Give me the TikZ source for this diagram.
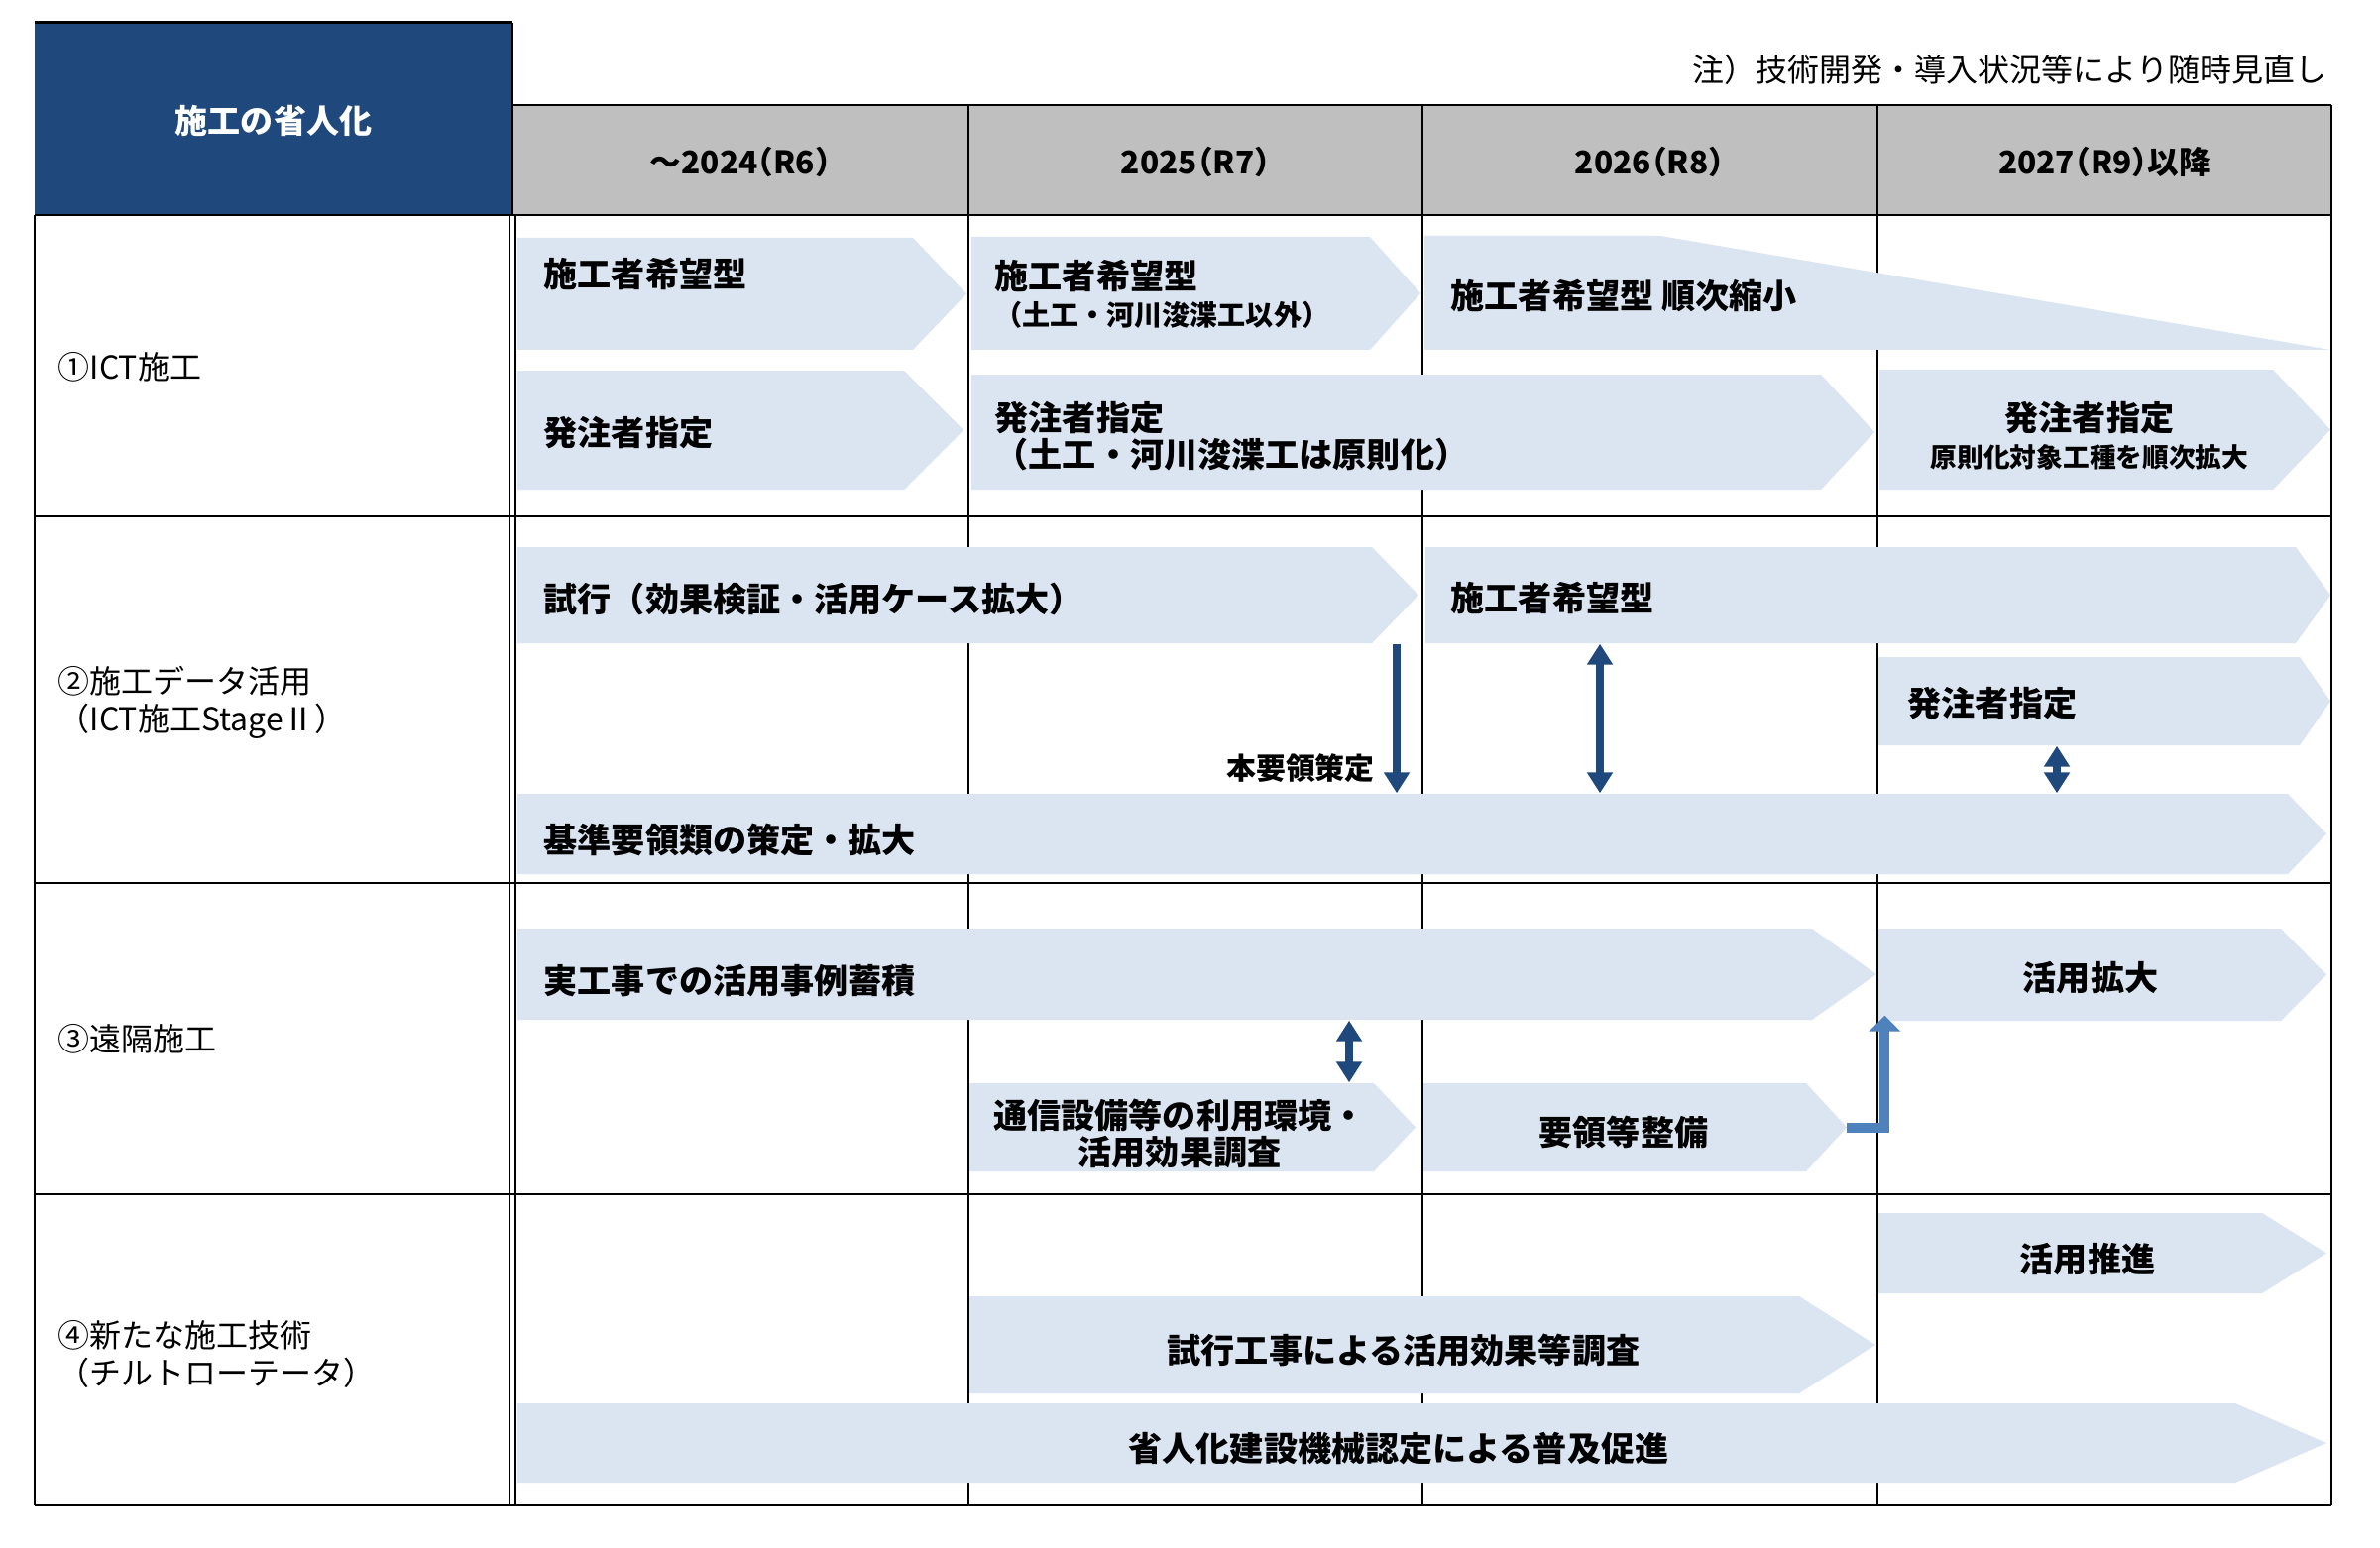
\documentclass[tikz,border=0pt]{standalone}
\usepackage{fontspec}
\setmainfont{Noto Sans CJK JP}
\usepackage{tikz}
\usetikzlibrary{arrows.meta, calc, positioning, fit}

\definecolor{headnavy}{HTML}{1F497D}
\definecolor{headgray}{HTML}{BFBFBF}
\definecolor{barblue}{HTML}{DBE5F1}
\definecolor{stepblue}{HTML}{4F81BD}

% chevron bar: name, left, body end, tip, top, bottom
\newcommand{\chevbar}[6]{%
	\fill[barblue] (#2,#5) -- (#3,#5) -- (#4,{(#5+#6)/2}) -- (#3,#6) -- (#2,#6) -- cycle;
	\coordinate (#1-nw) at (#2,#5);
	\coordinate (#1-se) at (#3,#6);
	\coordinate (#1-tip) at (#4,{(#5+#6)/2});
	\node[inner sep=0pt, fit=(#1-nw)(#1-se)] (#1) {};
}

\begin{document}
\begin{tikzpicture}[x=0.01cm, y=-0.01cm,
		bartext/.style={font=\bfseries\fontsize{9.7}{10.6}\selectfont, inner sep=0pt, align=left},
		rowlabel/.style={font=\fontsize{9.1}{10.8}\selectfont, inner sep=0pt, anchor=west, align=left},
		yearhead/.style={font=\bfseries\fontsize{9}{11}\selectfont\addfontfeature{RawFeature=+halt}, inner sep=0pt},
		thickrule/.style={line width=0.025cm},
		thinrule/.style={line width=0.013cm},
		navyarrow/.style={draw=headnavy, line width=0.085cm, -{Triangle[length=0.21cm,width=0.25cm]}},
		bothways/.style={navyarrow, {Triangle[length=0.21cm,width=0.25cm]}-{Triangle[length=0.21cm,width=0.25cm]}},
		elbowarrow/.style={draw=stepblue, line width=0.1cm, -{Triangle[length=0.16cm,width=0.31cm]}}
	]
	\useasboundingbox (0,0) rectangle (2401,1561);
	\fill[white] (0,0) rectangle (2401,1561);

	% header
	\fill[headnavy] (35,23) rectangle (517,217);
	\fill[headgray] (517,106) rectangle (2352,217);
	\node[font=\bfseries\fontsize{9.4}{11}\selectfont, text=white] (title) at (276,122) {施工の省人化};
	\node[yearhead] (y24) at (747,163) {～2024（R6）};
	\node[yearhead] (y25) at (1206,163) {2025（R7）};
	\node[yearhead] (y26) at (1664,163) {2026（R8）};
	\node[yearhead] (y27) at (2123,163) {2027（R9）以降};
	\node[anchor=east, font=\fontsize{9.1}{11}\selectfont, inner sep=0pt] (note) at (2348,70) {注）技術開発・導入状況等により随時見直し};

	% grid
	\draw[line width=0.03cm] (35,23) -- (517,23);
	\draw[thickrule] (517,23) -- (517,217);
	\draw[thickrule] (517,106) -- (2352,106);
	\foreach \y in {217,521,891,1205,1519}
		\draw[thickrule] (35,\y) -- (2352,\y);
	\foreach \x in {977,1435,1894}
		\draw[thinrule] (\x,106) -- (\x,1519);
	\draw[thinrule] (2352,106) -- (2352,1519);
	\draw[thinrule] (35,217) -- (35,1519);
	\draw[thinrule] (514,217) -- (514,1519);
	\draw[thinrule] (520,217) -- (520,1519);

	% row labels
	\node[rowlabel] (r1) at (58,370) {①ICT施工};
	\node[rowlabel] (r2) at (58,709) {②施工データ活用\\（ICT施工StageⅡ）};
	\node[rowlabel] (r3) at (58,1048) {③遠隔施工};
	\node[rowlabel] (r4) at (58,1366) {④新たな施工技術\\（チルトローテータ）};

	% 1 ICT
	\chevbar{a1}{522}{921}{975}{240}{353}
	\chevbar{a2}{980}{1382}{1433}{239}{353}
	\fill[barblue] (1437,238) -- (1675,238) -- (2351,353) -- (1437,353) -- cycle;
	\chevbar{b1}{522}{912}{972}{374}{494}
	\chevbar{b2}{980}{1837}{1891}{378}{494}
	\chevbar{b3}{1896}{2293}{2351}{373}{494}
	\node[bartext, anchor=west] (a1t) at (548,276) {施工者希望型};
	\node[bartext, anchor=west] (a2t) at (1003,297) {施工者希望型\\{\fontsize{8}{9.6}\selectfont （土工・河川浚渫工以外）}};
	\node[bartext, anchor=west] (a3t) at (1463,298) {施工者希望型 順次縮小};
	\node[bartext, anchor=west] (b1t) at (548,437) {発注者指定};
	\node[bartext, anchor=west] (b2t) at (1003,440) {発注者指定\\（土工・河川浚渫工は原則化）};
	\node[bartext, align=center] (b3t) at (2108,440) {発注者指定\\{\fontsize{7.6}{9}\selectfont 原則化対象工種を順次拡大}};

	% 2 data
	\chevbar{c1}{522}{1384}{1431}{552}{649}
	\chevbar{c2}{1438}{2316}{2351}{552}{649}
	\chevbar{c3}{1895}{2320}{2351}{663}{752}
	\chevbar{d}{522}{2308}{2347}{801}{882}
	\node[bartext, anchor=west] (c1t) at (548,605) {試行（効果検証・活用ケース拡大）};
	\node[bartext, anchor=west] (c2t) at (1463,603) {施工者希望型};
	\node[bartext, anchor=west] (c3t) at (1924,710) {発注者指定};
	\node[bartext, anchor=west] (dt) at (548,847) {基準要領類の策定・拡大};

	% 3 remote
	\chevbar{e1}{522}{1828}{1893}{937}{1029}
	\chevbar{e2}{1895}{2301}{2347}{937}{1030}
	\chevbar{f1}{978}{1386}{1428}{1093}{1182}
	\chevbar{f2}{1436}{1822}{1863}{1093}{1182}
	\node[bartext, anchor=west] (e1t) at (548,990) {実工事での活用事例蓄積};
	\node[bartext] (e2t) at (2109,987) {活用拡大};
	\node[bartext, align=center] (f1t) at (1190,1144) {通信設備等の利用環境・\\活用効果調査};
	\node[bartext] (f2t) at (1638,1142) {要領等整備};

	% 4 new tech
	\chevbar{g2}{1895}{2282}{2347}{1224}{1305}
	\chevbar{g1}{978}{1815}{1892}{1308}{1406}
	\chevbar{h}{522}{2255}{2347}{1416}{1496}
	\node[bartext] (g2t) at (2106,1271) {活用推進};
	\node[bartext] (g1t) at (1416,1362) {試行工事による活用効果等調査};
	\node[bartext] (ht) at (1411,1462) {省人化建設機械認定による普及促進};

	% links
	\draw[navyarrow] (c1.south -| 1409,0) -- (d.north -| 1409,0)
		node[pos=0.83, left=0.18cm, inner sep=0pt, font=\bfseries\fontsize{8.5}{10}\selectfont] (kyoten) {本要領策定};
	\draw[bothways] (c2.south -| 1614,0) -- (d.north -| 1614,0);
	\draw[bothways] (c3.south -| 2075,0) -- (d.north -| 2075,0);
	\draw[bothways] (e1.south -| 1361,0) -- (f1.north -| 1361,0);
	\draw[elbowarrow] (f2-tip) -| ([xshift=0.07cm,yshift=0.06cm]e2.south west);
\end{tikzpicture}
\end{document}
